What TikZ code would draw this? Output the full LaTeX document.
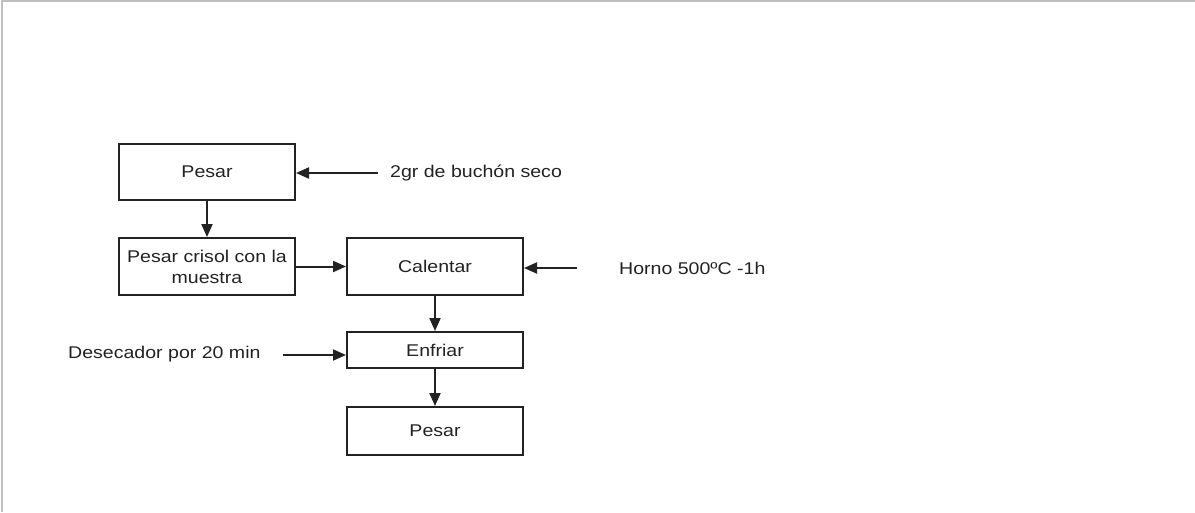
\documentclass[tikz,border=0pt]{standalone}
\usepackage{fontspec}
\setmainfont{Liberation Sans}[FakeStretch=1.15]
\usetikzlibrary{arrows.meta}
\definecolor{edge}{HTML}{222222}
\definecolor{frame}{HTML}{BFBFBF}
\tikzset{
  x=1pt, y=-1pt,
  every node/.style={font=\fontsize{17}{21}\selectfont, text=edge},
  procbox/.style={draw=edge, line width=2pt, minimum width=176pt, inner sep=0pt, align=center},
  label/.style={inner sep=0pt, anchor=west},
  arr/.style={draw=edge, line width=2pt, -{Triangle[length=13pt,width=11pt]}}
}
\begin{document}
\begin{tikzpicture}
\useasboundingbox (0,0) rectangle (1195,512);
\draw[frame, line width=2pt] (2,512) -- (2,1) -- (1195,1);
\node[procbox, minimum height=56pt] (b1) at (207,172) {Pesar};
\node[procbox, minimum height=57pt] (b2) at (207,266.5) {Pesar crisol con la\\muestra};
\node[procbox, minimum height=57pt] (b3) at (435,266.5) {Calentar};
\node[procbox, minimum height=36pt] (b4) at (435,350) {Enfriar};
\node[procbox, minimum height=48pt] (b5) at (435,431) {Pesar};
\node[label] (t1) at (390,173) {2gr de buchón seco};
\node[label] (t2) at (619,268) {Horno 500ºC -1h};
\node[label] (t3) at (68,354) {Desecador por 20 min};
\coordinate (s1) at (378,173);
\coordinate (s2) at (577,268);
\coordinate (s3) at (283,355);
\draw[arr] (s1) -- (s1 -| b1.east);
\draw[arr] (b1) -- (b2);
\draw[arr] (b2.east) -- (b2.east -| b3.west);
\draw[arr] (s2) -- (s2 -| b3.east);
\draw[arr] (b3) -- (b4);
\draw[arr] (s3) -- (s3 -| b4.west);
\draw[arr] (b4) -- (b5);
\end{tikzpicture}
\end{document}
